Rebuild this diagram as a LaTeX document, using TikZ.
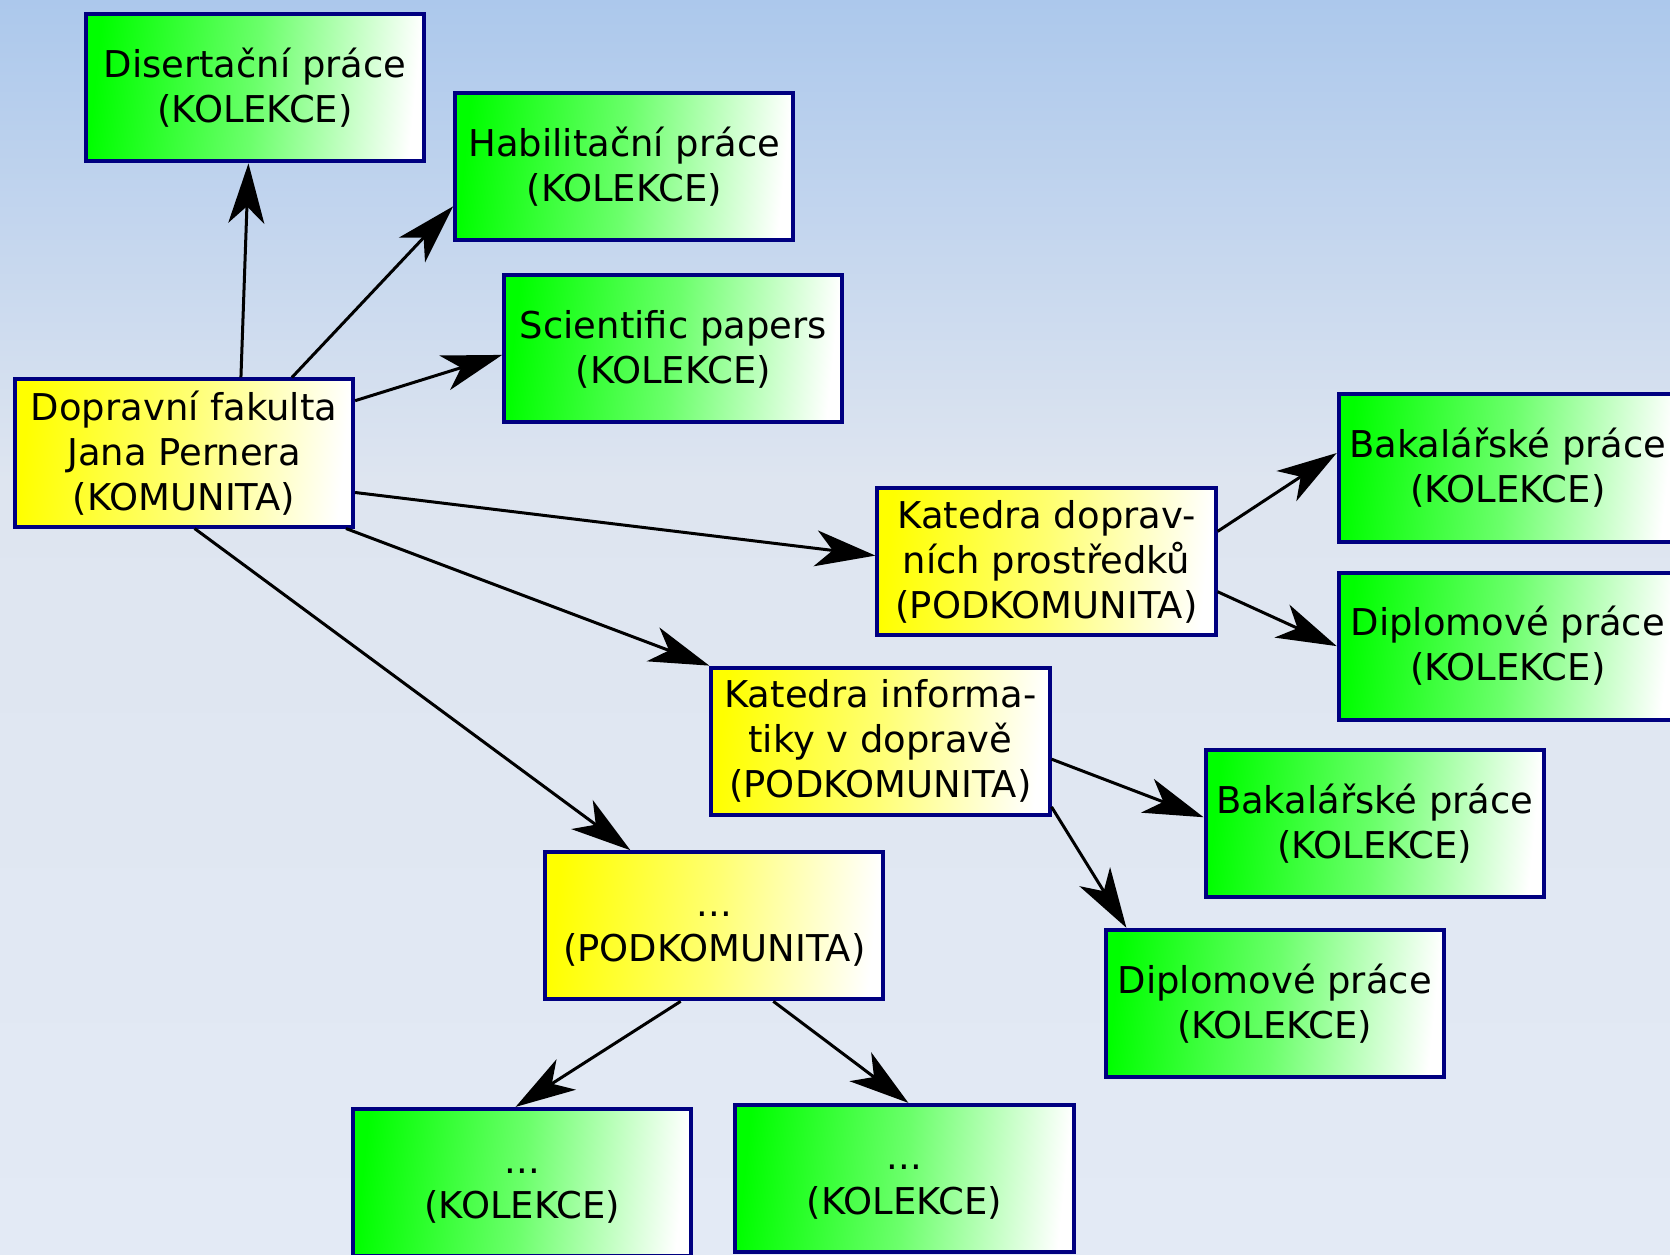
\documentclass[tikz,border=0pt]{standalone}
\usepackage{fontspec}
\setmainfont{DejaVu Sans}
\usetikzlibrary{arrows.meta,positioning}

\definecolor{okraj}{RGB}{0,0,128}
\definecolor{nebe}{RGB}{172,200,236}
\definecolor{pozadi}{RGB}{222,229,240}
\definecolor{pozadidole}{RGB}{227,234,245}

\tikzset{
  box/.style={rectangle,draw=okraj,line width=0.04cm,minimum width=3.38cm,
    minimum height=1.47cm,inner sep=0pt,align=center,
    font=\fontsize{10.5}{12.8}\selectfont},
  komunita/.style={box,left color=yellow,right color=white,
    middle color=yellow!55!white,shading angle=84},
  kolekce/.style={box,left color=green,right color=white,
    middle color=green!58!white,shading angle=84},
}

\begin{document}
\begin{tikzpicture}[x=0.01cm,y=-0.01cm,node distance=2cm,on grid,
    >={Stealth[length=6mm,width=3.6mm,inset=1.7mm]}]
   \useasboundingbox (0,0) rectangle (1670,1255);
   \shade[top color=nebe,bottom color=pozadi] (0,0) rectangle (1670,480);
   \shade[top color=pozadi,bottom color=pozadidole] (0,480) rectangle (1670,1255);

   \node[komunita] (fak) at (184,453) {Dopravní fakulta\\Jana Pernera\\(KOMUNITA)};
   \node[kolekce] (dis) [above right=3.65cm and 0.71cm of fak] {Disertační práce\\(KOLEKCE)};
   \node[kolekce] (hab) [above right=2.86cm and 4.4cm of fak] {Habilitační práce\\(KOLEKCE)};
   \node[kolekce] (sci) [above right=1.04cm and 4.89cm of fak] {Scientific papers\\(KOLEKCE)};
   \node[komunita] (kdp) [below right=1.085cm and 8.62cm of fak] {Katedra doprav-\\ních prostředků\\(PODKOMUNITA)};
   \node[kolekce] (bak1) [above right=0.935cm and 4.61cm of kdp] {Bakalářské práce\\(KOLEKCE)};
   \node[kolekce] (dip1) [below=1.78cm of bak1] {Diplomové práce\\(KOLEKCE)};
   \node[komunita] (kin) [below right=2.88cm and 6.96cm of fak] {Katedra informa-\\tiky v dopravě\\(PODKOMUNITA)};
   \node[kolekce] (bak2) [below right=0.82cm and 4.94cm of kin] {Bakalářské práce\\(KOLEKCE)};
   \node[kolekce] (dip2) [below right=2.62cm and 3.94cm of kin] {Diplomové práce\\(KOLEKCE)};
   \node[komunita] (pod) [below right=4.725cm and 5.3cm of fak] {\strut...\\(PODKOMUNITA)};
   \node[kolekce] (k1) [below left=2.565cm and 1.92cm of pod] {\strut...\\(KOLEKCE)};
   \node[kolekce] (k2) [below right=2.525cm and 1.9cm of pod] {\strut...\\(KOLEKCE)};

    \path[->,line width=0.03cm]
    (fak.53)  edge (dis.265)
    (fak.35)  edge (hab.193)
    (fak.17)  edge (sci.182)
    (fak.347) edge (kdp.178)
    (fak.335) edge (kin.north west)
    (fak.278) edge (pod.138)
    (kdp.10)  edge (bak1.175)
    (kdp.350) edge (dip1.west)
    (kin.354) edge (bak2.178)
    (kin.339) edge (dip2.153)
    (pod.246) edge (k1.95)
    (pod.308) edge (k2.87);
\end{tikzpicture}
\end{document}
